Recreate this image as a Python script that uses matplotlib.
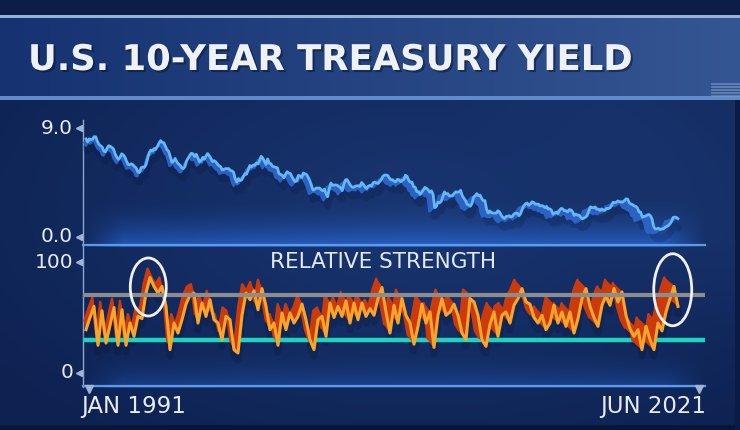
import numpy as np
import matplotlib
matplotlib.use('Agg')
import matplotlib.pyplot as plt
from matplotlib.collections import PolyCollection
from matplotlib.patches import Ellipse
import matplotlib.patheffects as pe

# ---- data ----
start_year = 1991.0
end_year = 2021.42

# monthly 10-year yield, Jan 1991 .. Jun 2021
yield_1991_1995 = [8.09, 7.85, 8.11, 8.04, 8.07, 8.28, 8.27, 7.90, 7.65, 7.53, 7.42, 7.09,
                   7.03, 7.34, 7.54, 7.48, 7.39, 7.26, 6.84, 6.59, 6.42, 6.59, 6.87, 6.77,
                   6.60, 6.26, 5.98, 5.97, 6.04, 5.96, 5.81, 5.68, 5.36, 5.33, 5.72, 5.77,
                   5.75, 5.97, 6.48, 6.97, 7.18, 7.10, 7.30, 7.24, 7.46, 7.74, 7.96, 7.81,
                   7.78, 7.47, 7.20, 7.06, 6.63, 6.17, 6.28, 6.49, 6.20, 6.04, 5.93, 5.71]
yield_1996_2000 = [5.65, 5.81, 6.27, 6.51, 6.74, 6.91, 6.87, 6.64, 6.83, 6.53, 6.20, 6.30,
                   6.58, 6.42, 6.69, 6.89, 6.71, 6.49, 6.22, 6.30, 6.21, 6.03, 5.88, 5.81,
                   5.54, 5.57, 5.65, 5.64, 5.65, 5.50, 5.46, 5.34, 4.81, 4.53, 4.83, 4.65,
                   4.72, 5.00, 5.23, 5.18, 5.54, 5.90, 5.79, 5.94, 5.92, 6.11, 6.03, 6.28,
                   6.66, 6.52, 6.26, 5.99, 6.44, 6.10, 6.05, 5.83, 5.80, 5.74, 5.72, 5.24]
yield_2001_2005 = [5.16, 5.10, 4.89, 5.14, 5.39, 5.28, 5.24, 4.97, 4.73, 4.57, 4.65, 5.09,
                   5.04, 4.91, 5.28, 5.21, 5.16, 4.93, 4.65, 4.26, 3.87, 3.94, 4.05, 4.03,
                   4.05, 3.90, 3.81, 3.96, 3.57, 3.33, 3.98, 4.45, 4.27, 4.29, 4.30, 4.27,
                   4.15, 4.08, 3.83, 4.35, 4.72, 4.73, 4.50, 4.28, 4.13, 4.10, 4.19, 4.23,
                   4.22, 4.17, 4.50, 4.34, 4.14, 4.00, 4.18, 4.26, 4.20, 4.46, 4.54, 4.47]
yield_2006_2010 = [4.42, 4.57, 4.72, 4.99, 5.11, 5.11, 5.09, 4.88, 4.72, 4.73, 4.60, 4.56,
                   4.76, 4.72, 4.56, 4.69, 4.75, 5.10, 5.00, 4.67, 4.52, 4.53, 4.15, 4.10,
                   3.74, 3.74, 3.51, 3.68, 3.88, 4.10, 4.01, 3.89, 3.69, 3.81, 3.53, 2.42,
                   2.52, 2.87, 2.82, 2.93, 3.29, 3.72, 3.56, 3.59, 3.40, 3.39, 3.40, 3.59,
                   3.73, 3.69, 3.73, 3.85, 3.42, 3.20, 3.01, 2.70, 2.65, 2.54, 2.76, 3.29]
yield_2011_2015 = [3.39, 3.58, 3.41, 3.46, 3.17, 3.00, 3.00, 2.30, 1.98, 2.15, 2.01, 1.98,
                   1.97, 1.97, 2.17, 2.05, 1.80, 1.62, 1.53, 1.68, 1.72, 1.75, 1.65, 1.72,
                   1.91, 1.98, 1.96, 1.76, 1.93, 2.30, 2.58, 2.74, 2.81, 2.62, 2.72, 2.90,
                   2.86, 2.71, 2.72, 2.71, 2.56, 2.60, 2.54, 2.42, 2.53, 2.30, 2.33, 2.21,
                   1.88, 1.98, 2.04, 1.94, 2.20, 2.36, 2.32, 2.17, 2.17, 2.07, 2.26, 2.24]
yield_2016_2021 = [2.09, 1.78, 1.89, 1.81, 1.81, 1.64, 1.50, 1.56, 1.63, 1.76, 2.14, 2.49,
                   2.43, 2.42, 2.48, 2.30, 2.30, 2.19, 2.32, 2.21, 2.20, 2.36, 2.35, 2.40,
                   2.58, 2.86, 2.84, 2.87, 2.98, 2.91, 2.89, 2.89, 3.00, 3.15, 3.12, 2.83,
                   2.71, 2.68, 2.57, 2.53, 2.40, 2.07, 2.06, 1.63, 1.70, 1.71, 1.81, 1.86,
                   1.76, 1.50, 0.87, 0.66, 0.67, 0.73, 0.62, 0.65, 0.68, 0.79, 0.87, 0.93,
                   1.08, 1.26, 1.61, 1.64, 1.62, 1.52]

# relative strength (evenly spaced, Jan 1991 .. Jun 2021)
rsi = [39, 50, 60, 25, 56, 27, 43, 59, 25, 57, 25, 45, 33, 51, 49, 72, 86, 78, 72, 78,
       60, 21, 45, 36, 48, 62, 70, 72, 45, 63, 51, 66, 48, 45, 30, 51, 48, 21, 18, 52,
       72, 66, 74, 57, 76, 60, 39, 45, 25, 54, 39, 54, 45, 51, 62, 48, 30, 21, 48, 51,
       33, 63, 50, 60, 51, 65, 45, 63, 48, 63, 51, 58, 52, 67, 77, 55, 36, 61, 45, 67,
       52, 45, 26, 42, 62, 45, 55, 23, 52, 67, 52, 55, 62, 52, 36, 30, 67, 64, 52, 30,
       24, 44, 55, 33, 52, 55, 45, 61, 67, 76, 64, 62, 50, 45, 52, 39, 45, 61, 45, 55,
       42, 55, 36, 49, 67, 76, 60, 50, 42, 61, 70, 61, 76, 64, 73, 52, 40, 33, 39, 21,
       42, 30, 21, 45, 38, 55, 67, 78, 60]

overbought = 70
oversold = 30
yield_ticks = [0.0, 9.0]
rsi_ticks = [0, 100]

W, H = 740, 430


def rect(left, top, right, bottom):
    return [left / W, 1 - bottom / H, (right - left) / W, (bottom - top) / H]


def ribbon(ax, x, y, dy, face, line, lw, spread=0.011):
    x = np.asarray(x, dtype=float)
    y = np.asarray(y, dtype=float)
    # back face slightly shifted to give the 3D look
    bx = x - (0.08 + spread * (x - start_year))
    by = y + dy
    polys = [[(x[i], y[i]), (x[i + 1], y[i + 1]), (bx[i + 1], by[i + 1]), (bx[i], by[i])]
             for i in range(len(x) - 1)]
    ax.add_collection(PolyCollection(polys, facecolors=face, edgecolors=face,
                                     linewidths=0.5, zorder=3))
    ax.plot(bx, by, color=face, lw=lw * 0.8, zorder=3)
    ax.plot(x, y, color=line, lw=lw, zorder=4, solid_joinstyle='round')


fig = plt.figure(figsize=(7.4, 4.3), dpi=100)
fig.patch.set_facecolor('#10285a')

# ---- background ----
bg = fig.add_axes([0, 0, 1, 1])
yy, xx = np.mgrid[0:H, 0:W].astype(float)
img = np.zeros((H, W, 3))
panel_a = np.array([14, 34, 82]) / 255
panel_b = np.array([25, 54, 114]) / 255
r = np.clip(np.hypot((xx - 420) / 520, (yy - 210) / 280), 0, 1)[..., None]
img[:] = panel_b * (1 - r) + panel_a * r
# soft sheen on the right
sheen = np.clip((xx - 0.8 * yy - 360) / 160, 0, 1) * np.clip((360 - yy) / 120, 0, 1)
img += sheen[..., None] * np.array([0.015, 0.025, 0.035])
# glow under the yield chart and the RSI chart
edge = np.clip((xx - 83) / 40, 0, 1) * np.clip((705 - xx) / 40, 0, 1)
g1 = np.clip((yy - 195) / 50, 0, 1) ** 2 * (yy <= 246) * edge
g2 = np.clip((yy - 345) / 42, 0, 1) ** 2 * (yy <= 387) * edge
img += (g1 * 1.0 + g2 * 0.6)[..., None] * np.array([0.06, 0.17, 0.33])
# banner
ban = (yy >= 15) & (yy <= 98)
t = (xx / W)[..., None]
ban_col = np.array([22, 50, 112]) / 255 * (1 - t) + np.array([52, 86, 146]) / 255 * t
img[ban] = ban_col[ban]
img[(yy >= 15) & (yy < 18)] = np.array([150, 180, 215]) / 255
img[(yy >= 96) & (yy <= 99)] = np.array([95, 140, 200]) / 255
img[yy < 15] = np.array([12, 30, 72]) / 255
img[yy > 424] = np.array([8, 22, 56]) / 255
img[(xx > 734) & (yy > 99)] = np.array([10, 28, 70]) / 255
img = np.clip(img, 0, 1)
bg.imshow(img, extent=(0, W, H, 0), aspect='auto', interpolation='bilinear')
bg.set_xlim(0, W)
bg.set_ylim(H, 0)
bg.axis('off')

# little stacked-bars logo at the right of the banner
for k in range(5):
    bg.plot([712, 740], [84 + 3 * k, 84 + 3 * k], color='#7d98c4', lw=1.2, alpha=0.7)

bg.text(28, 60, 'U.S. 10-YEAR TREASURY YIELD', fontsize=25.5, fontweight='heavy',
        color='#eef2f7', va='center', ha='left', family='DejaVu Sans',
        path_effects=[pe.withSimplePatchShadow(offset=(1.5, -1.5), shadow_rgbFace='#06132e', alpha=0.5)])

# axis line, baselines
bg.plot([83, 83], [120, 387], color='#8da6cf', lw=1.0)
bg.plot([83, 705], [245, 245], color='#5b9ce8', lw=1.6)
bg.plot([83, 705], [386, 386], color='#5b9ce8', lw=1.6)
bg.plot([89, 699], [389, 389], ls='none', marker='v', ms=6, color='#9fb4d6')
for yp in [128, 237, 262, 373]:
    bg.plot([79], [yp], marker='<', ms=5, color='#9fb4d6')

lab_kw = dict(color='#e6ecf2', family='DejaVu Sans', va='center')
for val, yp in zip(yield_ticks, [237, 128]):
    bg.text(73, yp, f'{val:.1f}', ha='right', fontsize=14.5, **lab_kw)
for val, yp in zip(rsi_ticks, [373, 262]):
    bg.text(73, yp, f'{val}', ha='right', fontsize=14.5, **lab_kw)
bg.text(81, 407, 'JAN 1991', ha='left', fontsize=16.5, **lab_kw)
bg.text(706, 407, 'JUN 2021', ha='right', fontsize=16.5, **lab_kw)
bg.text(383, 262, 'RELATIVE STRENGTH', ha='center', va='center', color='#e2e8f0',
        fontsize=15.5, family='DejaVu Sans')

# ---- yield chart ----
ppy = (678 - 86) / (end_year - start_year)
xlim = (start_year - 3 / ppy, start_year + (705 - 86) / ppy)

ax1 = fig.add_axes(rect(83, 118, 705, 246))
ppu1 = (237 - 128) / 9.0
ax1.set_xlim(*xlim)
ax1.set_ylim(-(246 - 237) / ppu1, 9 + (128 - 118) / ppu1)
yields = (yield_1991_1995 + yield_1996_2000 + yield_2001_2005 +
          yield_2006_2010 + yield_2011_2015 + yield_2016_2021)
xm = start_year + np.arange(len(yields)) / 12.0
ax1.plot(xm, np.array(yields) - 0.75, color='#050f28', lw=5, alpha=0.18, zorder=2)
ribbon(ax1, xm, yields, -0.32, '#2d62c4', '#63b8f7', 2.0)
ax1.axis('off')

# ---- relative strength chart ----
ax2 = fig.add_axes(rect(83, 250, 705, 387))
ppu2 = (373 - 262) / 100.0
ax2.set_xlim(*xlim)
ax2.set_ylim(-(387 - 373) / ppu2, 100 + (262 - 250) / ppu2)
ax2.axhline(overbought, color='#8c8c8c', lw=3, zorder=5)
ax2.axhline(oversold, color='#1fd3c0', lw=3.2, zorder=2)
xr = np.linspace(start_year, end_year, len(rsi))
ax2.plot(xr, np.array(rsi) - 6, color='#050f28', lw=5, alpha=0.2, zorder=1)
ribbon(ax2, xr, rsi, 8, '#cc3a0c', '#f8a52c', 2.2, spread=0.014)
ax2.add_patch(Ellipse((1994.2, 77.5), 36 / ppy, 58 / ppu2, fill=False,
                      ec='#f0f0f0', lw=2, zorder=6))
ax2.add_patch(Ellipse((2021.15, 75), 38 / ppy, 72 / ppu2, fill=False,
                      ec='#f0f0f0', lw=2, zorder=6))
ax2.axis('off')

fig.savefig('out.png', dpi=100, facecolor=fig.get_facecolor())
